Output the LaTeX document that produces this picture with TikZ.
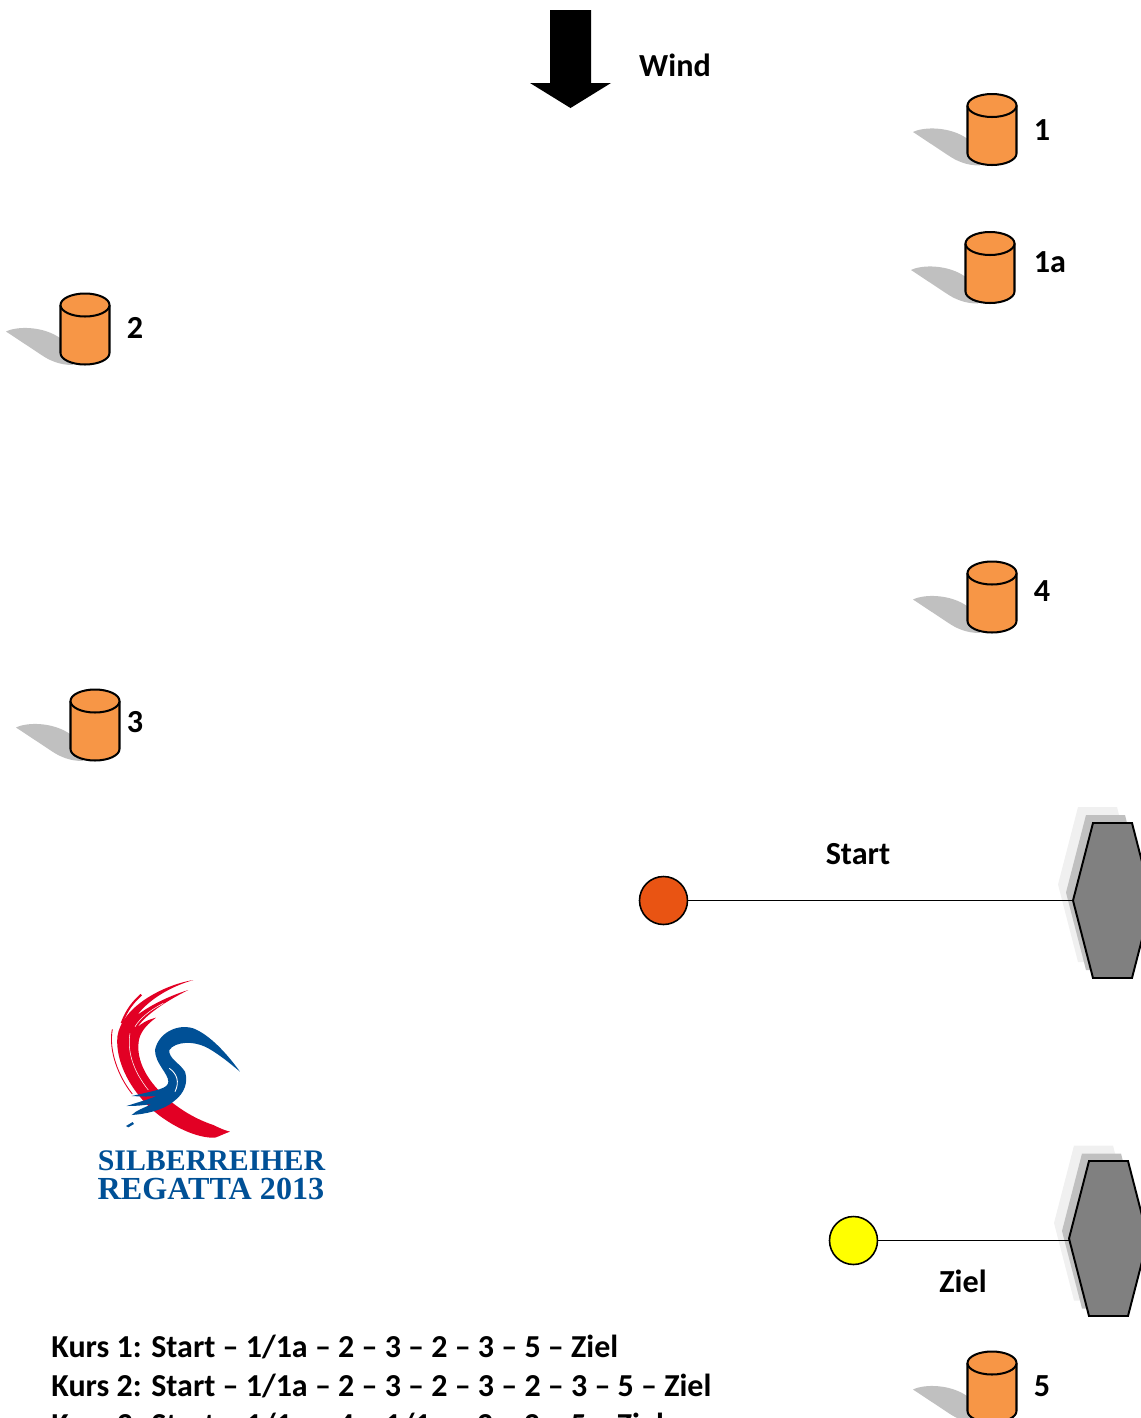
\documentclass[tikz,border=0pt]{standalone}
\usepackage{fontspec}
\usepackage{xcolor}
\usetikzlibrary{arrows.meta,positioning,shapes.geometric}
\setmainfont{Carlito}
\newfontfamily\logofont{Liberation Serif}
\definecolor{buoyorange}{RGB}{247,150,70}
\definecolor{shadowgrey}{RGB}{192,192,192}
\definecolor{paleshadow}{RGB}{240,240,240}
\definecolor{startred}{RGB}{233,84,19}
\definecolor{finishyellow}{RGB}{255,255,0}
\definecolor{hullgrey}{RGB}{128,128,128}
\definecolor{logored}{RGB}{226,0,36}
\definecolor{logoblue}{RGB}{0,80,150}
\newcommand{\boathull}[3]{%
  \fill[#3] (#1,#2) -- ++(20,-77.5) -- ++(39,0) -- ++(20,77.5) -- ++(-20,77.5) -- ++(-39,0) -- cycle;}

\begin{document}
\begin{tikzpicture}[
    x=0.02cm,y=-0.02cm,
    buoy/.style={draw=black,line width=1.15pt,fill=buoyorange,line join=round},
    pin/.style={circle,draw=black,line width=0.9pt,minimum size=0.96cm,inner sep=0pt,outer sep=0pt},
    hull/.style={draw=black,line width=1.1pt,fill=hullgrey},
    caption/.style={font=\bfseries\fontsize{18.3}{20}\selectfont,inner sep=0pt},
    course/.style={font=\bfseries\fontsize{18.2}{20}\selectfont,inner sep=0pt,anchor=base west},
    logotext/.style={font=\logofont\bfseries,text=logoblue,inner sep=0pt},
    line/.style={line width=1pt}
  ]
    \useasboundingbox (0,0) rectangle (1141,1418);
    \clip (0,0) rectangle (1141,1418);
    % wind
    \fill[black] (550,10) -- (591,10) -- (591,83) -- (611,83) -- (570.5,108) -- (530,83) -- (550,83) -- cycle;
    \node[caption] (wind) at (675,65) {Wind};
    % marks
    \foreach \mark/\cx/\cy/\lx/\ly in {1/992/129.5/1042/130,1a/990/267.5/1050/262,2/85/329/135/328,4/992/597/1042/591,3/95/725/135/722,5/992/1387/1042/1386}{
      \fill[shadowgrey] (\cx-79,\cy+2.5) .. controls (\cx-68,\cy-3) and (\cx-42,\cy-3) .. (\cx-25,\cy+9)
        -- (\cx-12,\cy+36) .. controls (\cx-25,\cy+36) and (\cx-35,\cy+32) .. (\cx-45,\cy+25) -- cycle;
      \draw[buoy] (\cx-24.5,\cy-24) -- (\cx-24.5,\cy+24)
        arc[start angle=180,end angle=360,x radius=0.49cm,y radius=0.23cm] -- (\cx+24.5,\cy-24) -- cycle;
      \draw[buoy] (\cx,\cy-24) ellipse[x radius=0.49cm,y radius=0.23cm];
      \node[caption] (label\mark) at (\lx,\ly) {\mark};
    }
    % start line
    \boathull{1058}{884.5}{paleshadow}
    \boathull{1066}{892.5}{shadowgrey}
    \draw[hull] (1073,900.5) coordinate (startboat) -- ++(20,-77.5) -- ++(39,0) -- ++(20,77.5) -- ++(-20,77.5) -- ++(-39,0) -- cycle;
    \node[pin,fill=startred] (startpin) at (663.5,900.5) {};
    \draw[line] (startpin) -- (startboat);
    \node[caption] (startlabel) at (858,854) {Start};
    % finish line
    \boathull{1054}{1223}{paleshadow}
    \boathull{1062}{1231}{shadowgrey}
    \draw[hull] (1069,1238.5) -- ++(20,-77.5) -- ++(39,0) -- ++(20,77.5) -- ++(-20,77.5) -- ++(-39,0) -- cycle;
    \coordinate (finishboat) at (1069.5,1240.5);
    \node[pin,fill=finishyellow] (finishpin) at (853.5,1240.5) {};
    \draw[line] (finishpin) -- (finishboat);
    \node[caption] (finishlabel) at (963,1281) {Ziel};
    % logo
    \begin{scope}[shift={(80,970)},x=0.00667cm,y=-0.00667cm]
      \fill[logored] (340,30) .. controls (250,45) and (125,110) .. (112,200)
        .. controls (105,290) and (170,390) .. (250,445)
        .. controls (300,480) and (360,505) .. (405,503)
        .. controls (420,498) and (435,490) .. (450,485)
        .. controls (430,480) and (415,472) .. (400,465)
        .. controls (340,445) and (285,410) .. (240,365)
        .. controls (195,320) and (165,260) .. (178,205)
        .. controls (185,180) and (205,160) .. (228,143)
        .. controls (200,150) and (185,160) .. (172,172)
        .. controls (200,130) and (265,90) .. (325,60)
        .. controls (260,80) and (205,110) .. (172,135)
        .. controls (205,90) and (270,50) .. (340,30) -- cycle;
      \draw[logored,line width=0.5pt] (97,178) .. controls (85,240) and (115,320) .. (157,372);
      \draw[logored,line width=1.2pt] (184,74) .. controls (160,95) and (140,120) .. (125,160);
      \draw[white,line width=0.3pt] (150,190) .. controls (140,250) and (165,310) .. (205,360);
      \draw[white,line width=0.3pt] (250,100) .. controls (210,120) and (180,145) .. (165,170);
      \fill[logoblue] (480,305) .. controls (440,250) and (390,195) .. (340,175)
        .. controls (290,160) and (235,190) .. (225,240)
        .. controls (225,280) and (265,310) .. (265,335)
        .. controls (265,355) and (235,360) .. (155,378)
        .. controls (190,380) and (210,380) .. (230,378)
        .. controls (200,390) and (170,398) .. (140,408)
        .. controls (170,408) and (190,406) .. (215,402)
        .. controls (190,415) and (170,420) .. (155,435)
        .. controls (200,432) and (250,420) .. (280,395)
        .. controls (315,370) and (325,335) .. (315,305)
        .. controls (300,280) and (265,265) .. (268,240)
        .. controls (285,215) and (340,210) .. (385,235)
        .. controls (420,255) and (450,280) .. (480,305) -- cycle;
      \fill[logoblue] (138,468) -- (158,456) -- (162,462) -- (145,472) -- cycle;
      \draw[white,line width=0.5pt] (268,295) .. controls (290,310) and (300,335) .. (285,365);
    \end{scope}
    \node[logotext,font=\logofont\bfseries\fontsize{17}{20}\selectfont] (logoline) at (211.5,1161) {SILBERREIHER};
    \node[logotext,font=\logofont\bfseries\fontsize{18.3}{20}\selectfont] (logoyear) at (211,1188.5) {REGATTA 2013};
    % courses
    \node[course] (course1) at (51,1357.5) {Kurs 1: Start – 1/1a – 2 – 3 – 2 – 3 – 5 – Ziel};
    \node[course] (course2) at (51,1396.5) {Kurs 2: Start – 1/1a – 2 – 3 – 2 – 3 – 2 – 3 – 5 – Ziel};
    \node[course] (course3) at (51,1435.5) {Kurs 3: Start – 1/1a – 4 – 1/1a – 2 – 3 – 5 – Ziel};
  \end{tikzpicture}
\end{document}
